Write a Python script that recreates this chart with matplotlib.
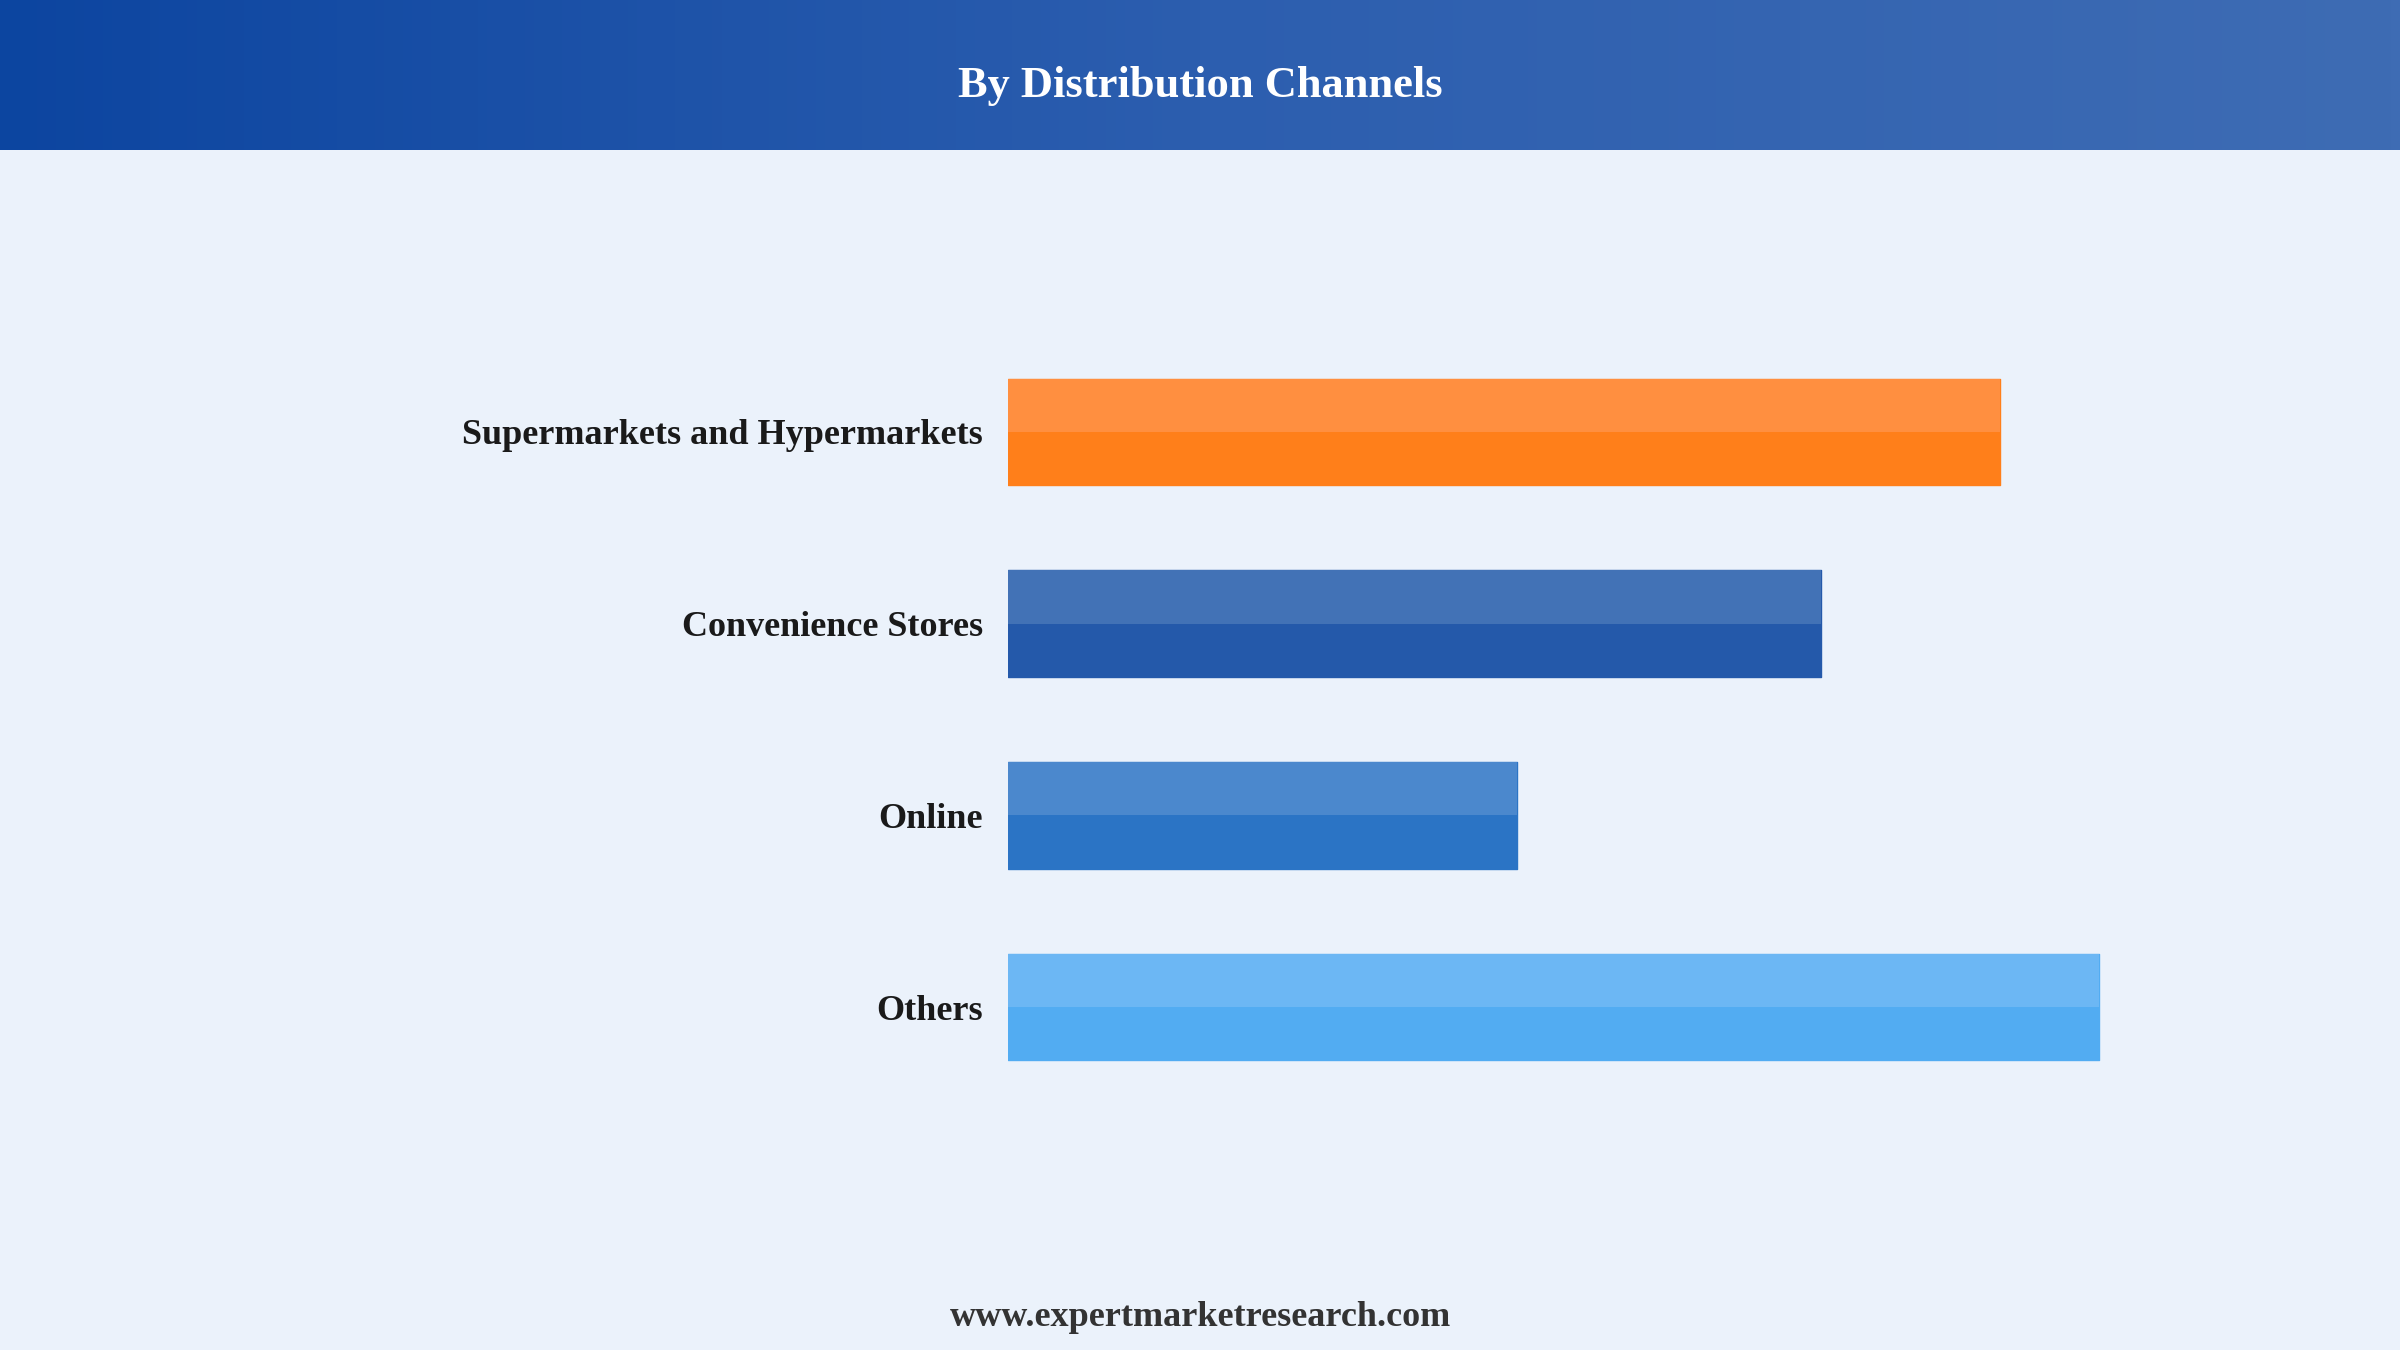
import numpy as np
import matplotlib
matplotlib.use("Agg")
import matplotlib.pyplot as plt
from matplotlib.colors import LinearSegmentedColormap

matplotlib.rc("font", family=["Liberation Serif", "DejaVu Serif"])

# Data (no axis shown, relative bar lengths)
channels = ["Supermarkets and Hypermarkets", "Convenience Stores", "Online", "Others"]
values = [30.0, 24.6, 15.4, 33.0]
top_colors = ["#FF8F40", "#4272B6", "#4B88CD", "#6CB7F4"]
bottom_colors = ["#FF7F1A", "#2459AA", "#2B74C5", "#52ACF2"]

bg = "#EBF2FB"

fig = plt.figure(figsize=(24, 13.5), dpi=100)
fig.patch.set_facecolor(bg)

# header band with horizontal gradient
hdr = fig.add_axes([0, 1 - 150 / 1350, 1, 150 / 1350])
cmap = LinearSegmentedColormap.from_list("hdr", ["#0C45A0", "#2C5EAF", "#3E6CB4"])
hdr.imshow(np.linspace(0, 1, 512).reshape(1, -1), aspect="auto", cmap=cmap,
           extent=[0, 1, 0, 1])
hdr.set_xlim(0, 1)
hdr.set_ylim(0, 1)
hdr.axis("off")
hdr.text(0.5, 0.43, "By Distribution Channels", color="white", fontsize=32,
         fontweight="bold", ha="center", va="center")

# bars
ax = fig.add_axes([1008 / 2400, 247 / 1350, 1200 / 2400, 767 / 1350])
ax.set_facecolor(bg)
y = np.arange(len(channels))
h = 0.555
ax.barh(y, values, height=h, color=bottom_colors, edgecolor=bottom_colors,
        linewidth=1.0, joinstyle="round")
ax.barh(y - h / 4, values, height=h / 2, color=top_colors, linewidth=0)

ax.set_xlim(0, 36.3)
ax.set_ylim(3.5, -0.5)
ax.set_yticks(y)
ax.set_yticklabels(channels, fontsize=26, fontweight="bold", color="#1A1A1A")
ax.tick_params(axis="y", length=0, pad=18)
ax.set_xticks([])
for s in ax.spines.values():
    s.set_visible(False)

fig.text(0.5, 1 - 1318 / 1350, "www.expertmarketresearch.com", fontsize=26,
         fontweight="bold", color="#333333", ha="center", va="center")

fig.savefig("out.png", dpi=100, facecolor=bg)
